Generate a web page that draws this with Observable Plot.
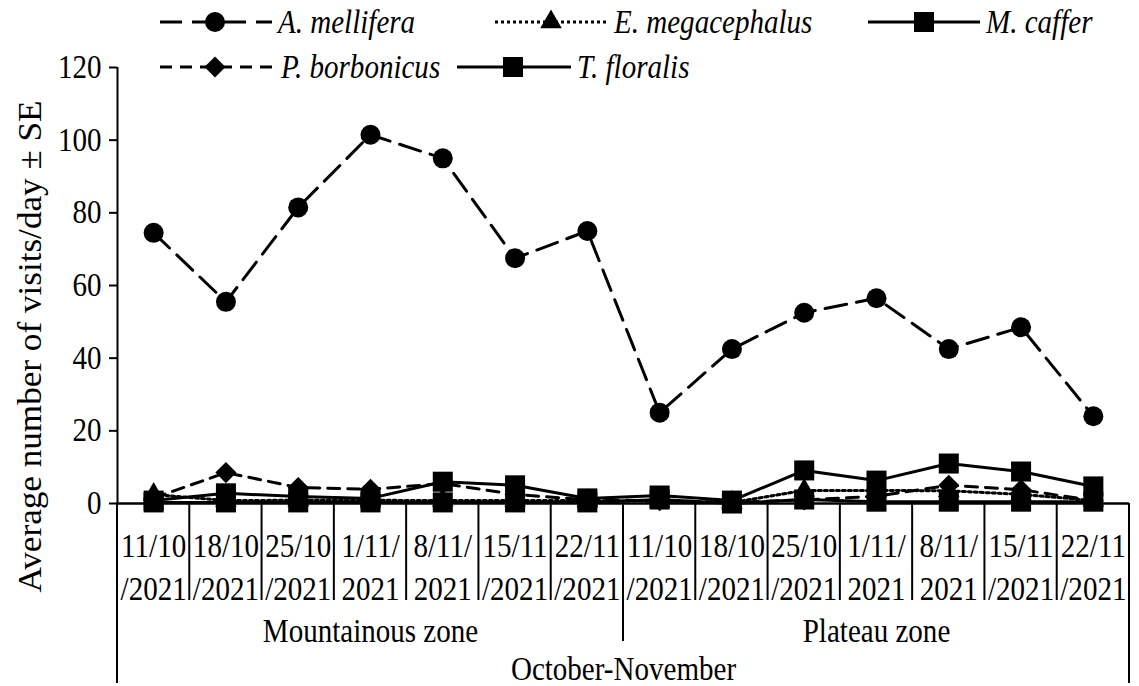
<!DOCTYPE html>
<html>
<head>
<meta charset="utf-8">
<script src="https://cdn.jsdelivr.net/npm/d3@7"></script>
<script src="https://cdn.jsdelivr.net/npm/@observablehq/plot@0.6"></script>
<style>
  body { margin: 0; background: #fff; }
  #wrap { position: relative; width: 1139px; height: 686px; }
  #legend { position: absolute; left: 0; top: 0; pointer-events: none; }
</style>
</head>
<body>
<div id="wrap"></div>
<script>
// Sampling dates, repeated for each zone
const zones = ["Mountainous zone", "Plateau zone"];
const dates = ["11/10/2021", "18/10/2021", "25/10/2021", "1/11/2021", "8/11/2021", "15/11/2021", "22/11/2021"];
const period = "October-November";
const yTicks = [0, 20, 40, 60, 80, 100, 120];
const yLabel = "Average number of visits/day ± SE";

// Average visits per day, mountainous dates then plateau dates
const mellifera     = [74.5, 55.5, 81.5, 101.5, 95, 67.5, 75, 25, 42.5, 52.5, 56.5, 42.5, 48.5, 24];
const megacephalus  = [2.5, 0.8, 0.9, 0.9, 0.8, 0.8, 0.8, 0.6, 0.3, 3.6, 3.6, 3.5, 2.5, 0.8];
const caffer        = [0.8, 2.8, 1.9, 1.4, 6, 5, 1.4, 2.2, 0.8, 9.1, 6.3, 11, 8.8, 4.7];
const borbonicus    = [1.5, 8.5, 4.4, 3.9, 5.5, 2.5, 1, 0.8, 0.3, 1, 2, 5, 3.8, 0.8];
const floralis      = [0.3, 0.3, 0.3, 0.3, 0.3, 0.3, 0.3, 1.1, 0, 1.1, 0.5, 0.5, 0.5, 0.5];

const seriesNames = ["A. mellifera", "E. megacephalus", "M. caffer", "P. borbonicus", "T. floralis"];
const seriesValues = [mellifera, megacephalus, caffer, borbonicus, floralis];
const seriesDash = ["22,10", "3,3", null, "12,8", null];
const seriesSymbol = ["circle", "triangle", "square", "diamond2", "square"];
const seriesR = [10, 8, 11.3, 9.5, 11.3];

const serifFont = "'Liberation Serif', 'Times New Roman', serif";
const fontPx = 33;        // glyph height
const narrow = 0.88;      // horizontal squeeze of the serif face

// one slot per zone × date along a continuous index axis
const slots = zones.flatMap((zone, zi) =>
  dates.map((date, di) => ({zone, date, i: zi * dates.length + di})));
const zoneRows = zones.map((zone, zi) => ({zone, start: zi * dates.length, end: (zi + 1) * dates.length}));

const series = seriesNames.map((name, k) => ({
  name, dash: seriesDash[k], symbol: seriesSymbol[k], r: seriesR[k],
  rows: seriesValues[k].map((v, i) => ({x: slots[i].i + 0.5, y: v}))
}));

const lineMarks = series.slice().reverse().map(s =>
  Plot.line(s.rows, {x: "x", y: "y", stroke: "black", strokeWidth: 3,
    strokeDasharray: s.dash ?? undefined, strokeLinejoin: "round"}));
const dotMarks = series.slice().reverse().map(s =>
  Plot.dot(s.rows, {x: "x", y: "y", symbol: () => s.symbol, r: s.r, fill: "black", stroke: "none"}));

const below = (dy) => ({frameAnchor: "bottom", lineAnchor: "middle", dy, fontSize: fontPx});

const plot = Plot.plot({
  width: 1139,
  height: 686,
  marginLeft: 117,
  marginRight: 10,
  marginTop: 67,
  marginBottom: 183,
  style: {fontFamily: serifFont, fontSize: fontPx + "px", color: "#000", background: "#fff", overflow: "visible"},
  x: {domain: [0, slots.length], axis: null},
  y: {domain: [0, 120], axis: null},
  symbol: {type: "identity"},
  marks: [
    Plot.axisY({ticks: yTicks, tickSize: 8, tickPadding: 8, label: null, fontSize: fontPx, strokeWidth: 2}),
    Plot.ruleX([0], {strokeWidth: 2}),
    Plot.ruleY([0], {strokeWidth: 2.5}),
    ...lineMarks,
    ...dotMarks,
    // two-line date labels under each slot
    Plot.text(slots, {x: d => d.i + 0.5, text: d => d.date.slice(0, 5), ...below(43)}),
    Plot.text(slots, {x: d => d.i + 0.5, text: d => d.date.slice(5), ...below(86)}),
    Plot.text(zoneRows, {x: d => (d.start + d.end) / 2, text: "zone", ...below(128)}),
    Plot.text([period], {x: () => slots.length / 2, text: d => d, ...below(166)}),
    Plot.text([yLabel], {frameAnchor: "left", textAnchor: "middle", lineAnchor: "middle", rotate: -90,
      dx: -87, dy: 61, text: d => d, fontSize: fontPx})
  ]
});

// category separators below the baseline: short between dates, longer between zones, full at the ends
{
  const xs = plot.scale("x"), ys = plot.scale("y");
  const y0 = ys.apply(0);
  const g = d3.select(plot).append("g").attr("stroke", "black").attr("stroke-width", 2);
  for (let k = 0; k <= slots.length; k++) {
    const outer = k === 0 || k === slots.length;
    const zoneEdge = k % dates.length === 0;
    const len = outer ? 180 : zoneEdge ? 138 : 97;
    g.append("line")
      .attr("x1", xs.apply(k)).attr("x2", xs.apply(k))
      .attr("y1", y0).attr("y2", y0 + len);
  }
}

const wrap = document.getElementById("wrap");
wrap.appendChild(plot);

// legend, two rows across the top
const legendLayout = [
  {row: 0, x1: 160, x2: 272, sx: 215, tx: 278},
  {row: 0, x1: 495, x2: 608, sx: 551, tx: 614},
  {row: 0, x1: 868, x2: 980, sx: 924, tx: 986},
  {row: 1, x1: 160, x2: 272, sx: 215, tx: 281},
  {row: 1, x1: 457, x2: 571, sx: 513, tx: 577}
];
const rowY = [22, 67];
const symbolTypes = {circle: d3.symbolCircle, triangle: d3.symbolTriangle, square: d3.symbolSquare, diamond2: d3.symbolDiamond2};
const legend = d3.select(wrap).append("svg")
  .attr("id", "legend").attr("width", 1139).attr("height", 90);
series.forEach((s, k) => {
  const L = legendLayout[k], y = rowY[L.row];
  const item = legend.append("g");
  item.append("line").attr("x1", L.x1).attr("x2", L.x2).attr("y1", y).attr("y2", y)
    .attr("stroke", "black").attr("stroke-width", 3)
    .attr("stroke-dasharray", s.dash);
  item.append("path")
    .attr("transform", `translate(${L.sx},${y})`)
    .attr("d", d3.symbol(symbolTypes[s.symbol], Math.PI * s.r * s.r)())
    .attr("fill", "black");
  item.append("text").attr("x", L.tx).attr("y", y).attr("dy", "0.33em")
    .attr("font-style", "italic").attr("font-size", fontPx)
    .text(s.name);
});

// tall, narrow serif lettering: squeeze each text along its own direction
wrap.querySelectorAll("text").forEach(el => {
  if (el.querySelector("tspan")) return;
  el.setAttribute("font-family", serifFont);
  el.style.fontFamily = serifFont;
  const isTitle = el.textContent === yLabel;
  const len = el.getComputedTextLength();
  el.setAttribute("lengthAdjust", "spacingAndGlyphs");
  el.setAttribute("textLength", isTitle ? 492 : len * narrow);
});
</script>
</body>
</html>
